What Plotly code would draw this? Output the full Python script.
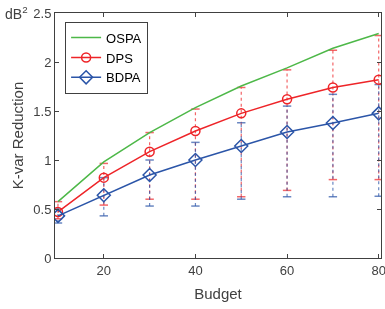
import plotly.graph_objects as go

budget = [10, 20, 30, 40, 50, 60, 70, 80]
ospa = [0.575, 0.98, 1.28, 1.535, 1.755, 1.94, 2.14, 2.29]
dps = [0.47, 0.82, 1.085, 1.296, 1.476, 1.62, 1.74, 1.82]
bdpa = [0.43, 0.64, 0.847, 1.0, 1.143, 1.286, 1.378, 1.476]
dps_hi = [0.575, 0.965, 1.28, 1.52, 1.74, 1.92, 2.12, 2.27]
dps_lo = [0.40, 0.54, 0.60, 0.60, 0.625, 0.69, 0.80, 0.80]
bdpa_hi = [0.50, 0.82, 1.0, 1.18, 1.38, 1.55, 1.67, 1.77]
bdpa_lo = [0.357, 0.43, 0.53, 0.53, 0.60, 0.625, 0.625, 0.63]

green = "#4DB848"
red = "#EE2428"
blue = "#2B55A8"

fig = go.Figure()


def whiskers(lo, hi, color):
    xs, ys = [], []
    for x, a, b in zip(budget, lo, hi):
        xs += [x, x, None]
        ys += [a, b, None]
    fig.add_trace(go.Scatter(x=xs, y=ys, mode="lines", line=dict(color=color, width=1.2, dash="dot"),
                             opacity=0.7, showlegend=False, hoverinfo="skip"))
    fig.add_trace(go.Scatter(x=budget + budget, y=lo + hi, mode="markers",
                             marker=dict(symbol="line-ew", size=6, line=dict(color=color, width=1.5)),
                             opacity=0.7, showlegend=False, hoverinfo="skip"))


whiskers(dps_lo, dps_hi, red)
whiskers(bdpa_lo, bdpa_hi, blue)

fig.add_trace(go.Scatter(x=budget, y=ospa, mode="lines", name="OSPA", line=dict(color=green, width=1.5)))
fig.add_trace(go.Scatter(x=budget, y=dps, mode="lines+markers", name="DPS", line=dict(color=red, width=1.5),
                         marker=dict(symbol="circle-open", size=9, color=red, line=dict(width=1.5))))
fig.add_trace(go.Scatter(x=budget, y=bdpa, mode="lines+markers", name="BDPA", line=dict(color=blue, width=1.5),
                         marker=dict(symbol="diamond-open", size=10, color=blue, line=dict(width=1.5))))

axcol = "#404040"
fig.update_layout(
    width=385, height=309,
    margin=dict(l=55, r=4, t=13, b=51, autoexpand=False),
    paper_bgcolor="white", plot_bgcolor="white",
    font=dict(family="Liberation Sans, Arial, sans-serif", size=13, color=axcol),
    showlegend=True,
    legend=dict(x=0.031, y=0.965, xanchor="left", yanchor="top", bgcolor="white",
                bordercolor=axcol, borderwidth=1, font=dict(size=13, color="#000000"),
                tracegroupgap=0, itemwidth=30),
    xaxis=dict(range=[9.35, 80.5], tickvals=[20, 40, 60, 80], ticks="inside", ticklen=4,
               ticklabeloverflow="allow",
               showline=True, mirror="ticks", linecolor=axcol, linewidth=1, showgrid=False, zeroline=False,
               title=dict(text="Budget", font=dict(size=15), standoff=11)),
    yaxis=dict(range=[0, 2.5], tickvals=[0, 0.5, 1, 1.5, 2, 2.5], ticktext=["0", "0.5", "1", "1.5", "2", "2.5"],
               ticks="inside", ticklen=4, showline=True, mirror="ticks", linecolor=axcol, linewidth=1,
               showgrid=False, zeroline=False,
               title=dict(text="K-var Reduction", font=dict(size=15), standoff=6)),
)

fig.add_annotation(text="dB<sup>2</sup>", xref="paper", yref="paper", x=-0.158, y=1.0,
                   xanchor="left", yanchor="middle", showarrow=False, font=dict(size=14, color=axcol))

fig.write_html("out.html", config={"displayModeBar": False},
               post_script="document.body.style.margin='0';document.body.style.overflow='hidden';")
